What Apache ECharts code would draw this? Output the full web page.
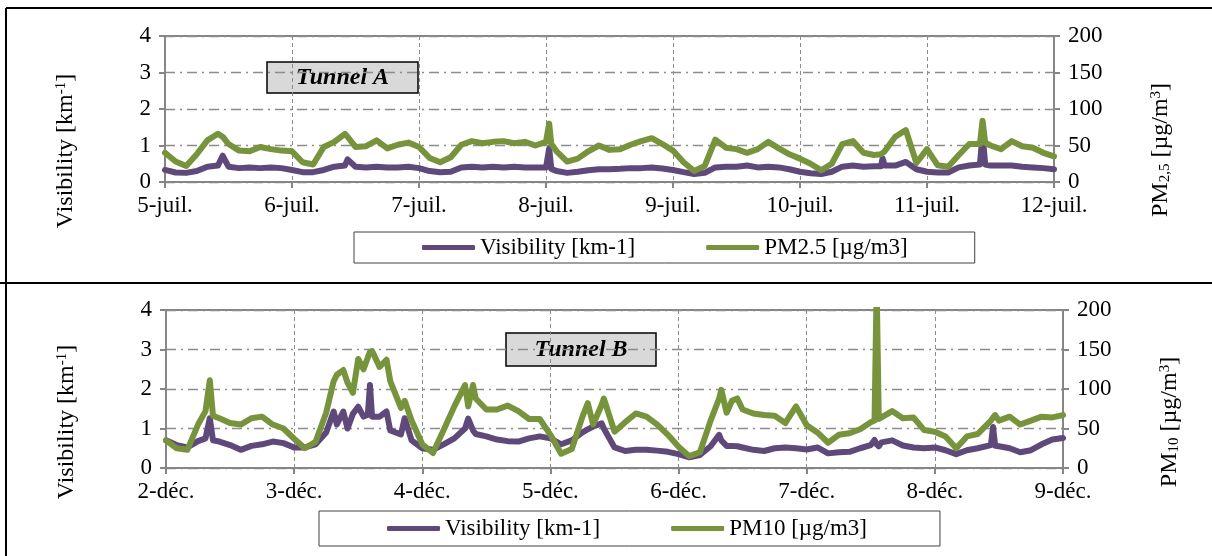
<!DOCTYPE html>
<html><head><meta charset="utf-8">
<script src="https://cdn.jsdelivr.net/npm/echarts@6/dist/echarts.min.js"></script>
<style>html,body{margin:0;padding:0;background:#fff}#c{width:1212px;height:556px}</style>
</head><body><div id="c"></div>
<script>
// ---------- data ----------
const daysA = ['5-juil.','6-juil.','7-juil.','8-juil.','9-juil.','10-juil.','11-juil.','12-juil.'];
const daysB = ['2-déc.','3-déc.','4-déc.','5-déc.','6-déc.','7-déc.','8-déc.','9-déc.'];
const visTicks = [0,1,2,3,4];
const pmTicks = [0,50,100,150,200];

// hours since first day label
const hoursA = [0,2,4,6,8,10,10.9,12,14,16,18,20,22,24,26,28,30,32,34,34.5,36,38,40,42,44,46,48,50,52,54,56,58,60,62,64,66,68,70,72,72.6,73,74,76,78,80,82,84,86,88,90,92,94,96,98,100,102,104,106,108,110,112,114,116,118,120,122,124,126,128,130,132,134,135.3,135.6,136,138,140,142,144,146,148,150,152,154,154.5,155,156,158,160,162,164,166,168];
const visA = [0.33,0.26,0.25,0.30,0.42,0.45,0.72,0.42,0.38,0.40,0.38,0.40,0.38,0.33,0.27,0.27,0.33,0.42,0.45,0.62,0.42,0.40,0.42,0.40,0.40,0.42,0.38,0.30,0.27,0.28,0.40,0.42,0.40,0.42,0.40,0.42,0.40,0.40,0.40,0.92,0.36,0.30,0.25,0.28,0.32,0.35,0.35,0.36,0.38,0.38,0.40,0.37,0.33,0.27,0.22,0.25,0.40,0.42,0.42,0.45,0.40,0.42,0.40,0.35,0.28,0.24,0.22,0.28,0.42,0.45,0.42,0.43,0.43,0.65,0.45,0.45,0.55,0.35,0.28,0.26,0.26,0.40,0.45,0.48,1.30,0.48,0.45,0.45,0.45,0.42,0.40,0.38,0.35];
const pm25A = [40,28,22,38,57,66,62,52,43,42,48,45,43,42,27,24,48,55,66,62,48,49,57,46,51,54,48,33,27,34,51,56,53,55,56,53,55,50,55,80,52,42,28,32,42,50,44,45,51,56,60,52,43,27,15,22,58,47,45,40,45,55,46,38,32,25,16,25,52,56,40,37,38,40,42,62,71,26,45,23,21,37,52,52,84,54,50,45,56,49,47,40,35];

const hoursB = [0,2,4,6,7.4,8.2,8.8,10,12,14,16,18,20,22,24,26,28,30,31.4,32,33.2,34,35,36,37,37.8,38.2,38.6,40,41.3,42,44,44.7,46,48,50,52,54,56,56.6,57.5,58,60,62,64,66,68,70,72,74,76,78,79,80,81.6,82,84,86,88,90,92,94,96,98,100,102,103.6,104,105,106,107,108,110,112,114,116,118,120,122,124,126,128,130,132,132.7,133.1,133.5,134,136,138,140,142,144,146,148,150,152,154.5,154.9,155.3,156,158,160,162,164,166,168];
const visB = [0.70,0.58,0.52,0.68,0.75,1.26,0.70,0.67,0.58,0.46,0.56,0.60,0.67,0.63,0.52,0.52,0.60,0.90,1.43,1.10,1.43,1.00,1.37,1.55,1.30,1.35,2.10,1.30,1.30,1.43,0.95,0.85,1.26,0.70,0.50,0.46,0.60,0.75,1.00,1.25,0.95,0.86,0.80,0.72,0.68,0.67,0.75,0.80,0.75,0.60,0.70,0.90,0.98,1.05,1.13,1.00,0.52,0.43,0.46,0.46,0.44,0.41,0.35,0.27,0.33,0.55,0.84,0.70,0.56,0.56,0.55,0.52,0.46,0.43,0.50,0.52,0.50,0.47,0.52,0.37,0.40,0.41,0.50,0.58,0.71,0.60,0.55,0.65,0.70,0.57,0.52,0.50,0.52,0.45,0.35,0.45,0.50,0.58,1.04,0.56,0.55,0.50,0.40,0.45,0.60,0.72,0.76];
const pm10B = [35,25,23,55,72,111,66,63,57,55,63,65,55,50,37,25,33,70,110,118,124,108,95,138,125,140,147,148,128,137,110,76,85,60,30,19,48,78,105,78,105,88,74,74,79,72,62,62,42,18,24,65,82,55,80,88,46,58,69,65,55,42,27,15,20,60,88,99,70,85,88,74,69,67,66,57,78,54,45,32,42,44,49,58,60,230,62,64,72,63,64,48,46,40,25,40,43,60,64,67,60,65,55,60,65,64,67];

// ---------- styling ----------
const FONT = 'Liberation Serif';
const FS = 23;
const NFS = 24;
const PURPLE = '#5f497a';
const GREEN = '#77933c';
const AX = '#868686';
const GRIDC = '#8c8c8c';

function xAxis(gi, labels) {
  return {
    type: 'value', gridIndex: gi, min: 0, max: 168, interval: 24,
    axisLine: { show: true, lineStyle: { color: AX, width: 2 } },
    axisTick: { show: true, length: 6, lineStyle: { color: AX, width: 2 } },
    axisLabel: { color: '#000', fontFamily: FONT, fontSize: FS, margin: 12,
      formatter: v => labels[Math.round(v / 24)] },
    splitLine: { show: true, lineStyle: { color: GRIDC, width: 1, type: [4, 3] } }
  };
}
function yAxis(gi, pos, max, interval, split) {
  return {
    type: 'value', gridIndex: gi, position: pos, min: 0, max: max, interval: interval,
    axisLine: { show: true, lineStyle: { color: AX, width: 2 } },
    axisTick: { show: true, length: 6, lineStyle: { color: AX, width: 2 } },
    axisLabel: { color: '#000', fontFamily: FONT, fontSize: FS, margin: 14 },
    splitLine: { show: split, lineStyle: { color: GRIDC, width: 1.3, type: [10, 5, 2, 5] } }
  };
}
function line(name, xi, yi, hours, vals, color) {
  return {
    name: name, type: 'line', xAxisIndex: xi, yAxisIndex: yi,
    data: hours.map((h, i) => [h, vals[i]]),
    showSymbol: false, symbol: 'none', clip: true,
    lineStyle: { color: color, width: 6, join: 'round', cap: 'round' },
    itemStyle: { color: color }
  };
}
function legend(names, left, top, padV, padR) {
  return {
    data: names, left: left, top: top, orient: 'horizontal',
    padding: [padV, padR, padV, 68], itemGap: 71, itemWidth: 53, itemHeight: 5,
    icon: 'roundRect', borderColor: '#404040', borderWidth: 1, selectedMode: false,
    textStyle: { color: '#000', fontFamily: FONT, fontSize: FS }
  };
}
function vname(x, y, parts) {
  const rich = {
    n: { fontFamily: FONT, fontSize: NFS, fill: '#000' },
    sup: { fontFamily: FONT, fontSize: 15, fill: '#000', verticalAlign: 'top' },
    sub: { fontFamily: FONT, fontSize: 15, fill: '#000', verticalAlign: 'bottom' }
  };
  return {
    type: 'text', x: x, y: y, rotation: Math.PI / 2,
    style: { text: parts, rich: rich, align: 'center', verticalAlign: 'middle',
      fontFamily: FONT, fontSize: NFS, fill: '#000' }
  };
}
function tag(x, y, w, h, label) {
  return {
    type: 'group', x: x, y: y, children: [
      { type: 'rect', shape: { x: 0, y: 0, width: w, height: h },
        style: { fill: '#d9d9d9', stroke: '#000', lineWidth: 1.5 } },
      { type: 'text', x: w / 2, y: h / 2,
        style: { text: label, align: 'center', verticalAlign: 'middle',
          font: 'italic bold 24px "' + FONT + '"', fill: '#000' } }
    ]
  };
}

const chart = echarts.init(document.getElementById('c'));
chart.setOption({
  animation: false,
  backgroundColor: '#fff',
  grid: [
    { left: 165, top: 36, width: 889, height: 146, show: true, borderColor: AX, borderWidth: 2, backgroundColor: 'transparent' },
    { left: 166, top: 310, width: 897, height: 158, show: true, borderColor: AX, borderWidth: 2, backgroundColor: 'transparent' }
  ],
  xAxis: [xAxis(0, daysA), xAxis(1, daysB)],
  yAxis: [
    yAxis(0, 'left', 4, 1, true), yAxis(0, 'right', 200, 50, false),
    yAxis(1, 'left', 4, 1, true), yAxis(1, 'right', 200, 50, false)
  ],
  legend: [
    legend(['Visibility [km-1]', 'PM2.5 [µg/m3]'], 354, 232, 4, 67),
    legend(['Visibility [km-1]', 'PM10 [µg/m3]'], 319, 511, 6, 73)
  ],
  series: [
    line('Visibility [km-1]', 0, 0, hoursA, visA, PURPLE),
    line('PM2.5 [µg/m3]', 0, 1, hoursA, pm25A, GREEN),
    line('Visibility [km-1]', 1, 2, hoursB, visB, PURPLE),
    line('PM10 [µg/m3]', 1, 3, hoursB, pm10B, GREEN)
  ],
  graphic: [
    { type: 'line', shape: { x1: 6, y1: 8, x2: 1212, y2: 8 }, style: { stroke: '#000', lineWidth: 2 } },
    { type: 'line', shape: { x1: 6, y1: 8, x2: 6, y2: 556 }, style: { stroke: '#000', lineWidth: 2 } },
    { type: 'line', shape: { x1: 0, y1: 283, x2: 1212, y2: 283 }, style: { stroke: '#000', lineWidth: 2 } },
    tag(267, 62, 151, 31, 'Tunnel A'),
    tag(506, 333, 150, 33, 'Tunnel B'),
    vname(66, 151, '{n|Visibility [km}{sup|-1}{n|]}'),
    vname(1161, 150, '{n|PM}{sub|2,5}{n| [µg/m}{sup|3}{n|]}'),
    vname(67, 422, '{n|Visibility [km}{sup|-1}{n|]}'),
    vname(1170, 422, '{n|PM}{sub|10}{n| [µg/m}{sup|3}{n|]}')
  ]
});
</script></body></html>
